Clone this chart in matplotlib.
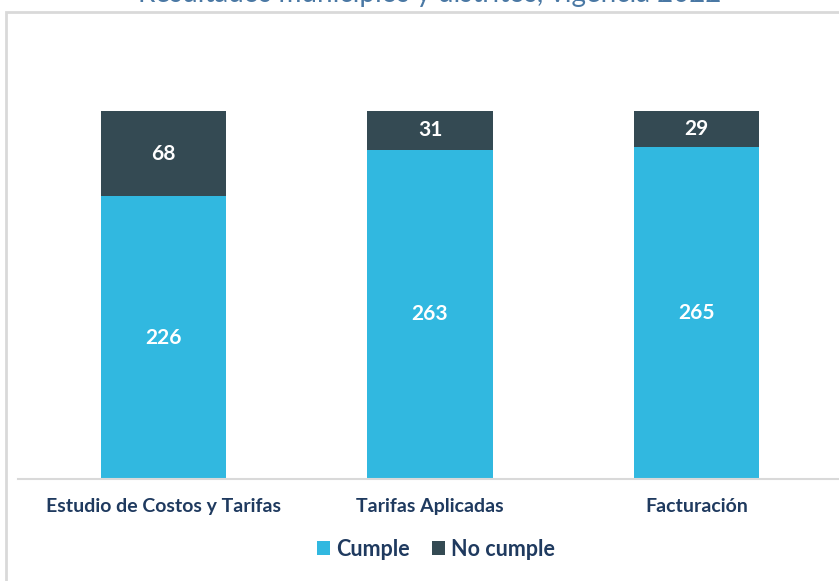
import matplotlib.pyplot as plt
import numpy as np
from matplotlib.patches import Rectangle

plt.rcParams['font.family'] = ['Lato', 'DejaVu Sans']

categorias = ['Estudio de Costos y Tarifas', 'Tarifas Aplicadas', 'Facturación']
cumple = [226, 263, 265]
no_cumple = [68, 31, 29]

c_cumple = '#31b8e0'
c_no = '#344a53'
navy = '#1f3a5f'

W, H = 839, 581
fig = plt.figure(figsize=(W / 100, H / 100), dpi=100)

# marco gris
fig.patches.append(Rectangle((6 / W, -0.1), 1.2, 1 - 12 / H + 0.1,
                             transform=fig.transFigure, fill=False,
                             edgecolor='#d9d9d9', linewidth=2))

# titulo recortado arriba (como en el original)
fig.text(430 / W, 1 - 2 / H, 'Resultados municipios y distritos, vigencia 2022',
         ha='center', va='baseline', fontsize=20, color='#4a78a4')

ax = fig.add_axes([18 / W, 1 - 479 / H, (839 - 18) / W, (479 - 40) / H])
x = np.arange(len(categorias))
b1 = ax.bar(x, cumple, width=0.47, color=c_cumple, label='Cumple')
b2 = ax.bar(x, no_cumple, width=0.47, bottom=cumple, color=c_no, label='No cumple')

for i in range(len(x)):
    ax.text(x[i], cumple[i] / 2, str(cumple[i]), ha='center', va='center',
            color='white', fontsize=15, fontweight='bold')
    ax.text(x[i], cumple[i] + no_cumple[i] / 2, str(no_cumple[i]), ha='center',
            va='center', color='white', fontsize=15, fontweight='bold')

ppu = 266.5
ax.set_xlim(-(163.5 - 18) / ppu, (839 - 163.5) / ppu)
ax.set_ylim(0, (479 - 40) / 1.2517)
for s in ['top', 'right', 'left']:
    ax.spines[s].set_visible(False)
ax.spines['bottom'].set_color('#d9d9d9')
ax.spines['bottom'].set_linewidth(1.5)
ax.set_yticks([])
ax.set_xticks(x)
ax.set_xticklabels(categorias, fontsize=14, fontweight='bold', color=navy)
ax.tick_params(axis='x', length=0, pad=14)

leg = fig.legend(handles=[b1, b2], loc='center', bbox_to_anchor=(436 / W, 1 - 549 / H),
                 ncol=2, frameon=False, handlelength=0.6, handleheight=0.6,
                 handletextpad=0.3, columnspacing=1.0,
                 prop={'size': 15.5, 'weight': 'bold'})
for t in leg.get_texts():
    t.set_color(navy)

fig.savefig('out.png', dpi=100)
